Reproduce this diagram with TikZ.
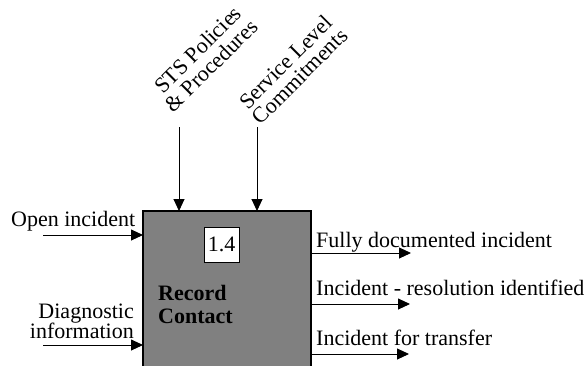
\documentclass[tikz,border=0pt]{standalone}
\usepackage{fontspec}
\setmainfont{Liberation Serif}
\usetikzlibrary{arrows.meta}
\begin{document}
\begin{tikzpicture}[x=1pt,y=-1pt,
  lbl/.style={inner sep=0pt,font=\fontsize{22}{22}\selectfont},
  flow/.style={line width=0.9pt,-{Triangle[length=12pt,width=11pt]}},
  rot/.style={lbl,rotate=45,anchor=base}]
\useasboundingbox (0,0) rectangle (586,365);
\clip (0,0) rectangle (586,365);
% activity box
\draw[line width=1.2pt,fill={rgb,255:red,128;green,128;blue,128}] (143,211) rectangle (311,372);
\node[draw,line width=1pt,fill=white,minimum width=35pt,minimum height=35pt,inner sep=0pt,
  font=\fontsize{22}{22}\selectfont] (num) at (221.5,244.5) {1.4};
\node[lbl,anchor=base west,font=\fontsize{22}{22}\selectfont\bfseries] (title1) at (158,300) {Record};
\node[lbl,anchor=base west,font=\fontsize{22}{22}\selectfont\bfseries] (title2) at (158,323) {Contact};
% inputs
\coordinate (in1s) at (43,235);
\coordinate (in1e) at (143,235);
\coordinate (in2s) at (43,345);
\coordinate (in2e) at (143,345);
\draw[flow] (in1s) -- (in1e);
\draw[flow] (in2s) -- (in2e);
\node[lbl,anchor=base west] (oi) at (11,226) {Open incident};
\node[lbl,anchor=base east] (di1) at (134,318) {Diagnostic};
\node[lbl,anchor=base east] (di2) at (134,338) {information};
% controls
\coordinate (c1s) at (179,127);
\coordinate (c1e) at (179,211);
\coordinate (c2s) at (257,127);
\coordinate (c2e) at (257,211);
\draw[flow] (c1s) -- (c1e);
\draw[flow] (c2s) -- (c2e);
\node[rot] (sts1) at (203,55) {STS Policies};
\node[rot] (sts2) at (216.5,71) {\& Procedures};
\node[rot] (slc1) at (291,67.5) {Service Level};
\node[rot] (slc2) at (305,81.5) {Commitments};
% outputs
\coordinate (o1s) at (311,253);
\coordinate (o1e) at (411,253);
\coordinate (o2s) at (311,304);
\coordinate (o2e) at (410,304);
\coordinate (o3s) at (311,354);
\coordinate (o3e) at (409,354);
\draw[flow] (o1s) -- (o1e);
\draw[flow] (o2s) -- (o2e);
\draw[flow] (o3s) -- (o3e);
\node[lbl,anchor=base west] (out1) at (316,247) {Fully documented incident};
\node[lbl,anchor=base west] (out2) at (316,295) {Incident - resolution identified};
\node[lbl,anchor=base west] (out3) at (316,345) {Incident for transfer};
\end{tikzpicture}
\end{document}
